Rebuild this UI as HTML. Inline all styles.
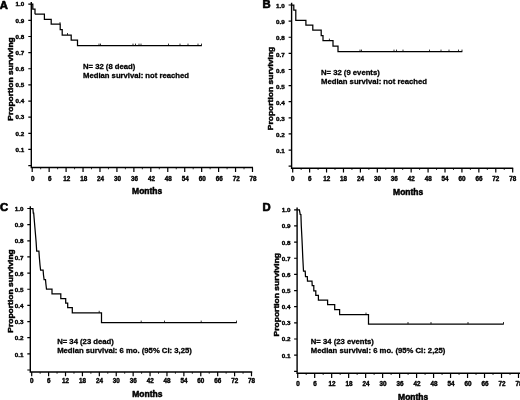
<!DOCTYPE html>
<html lang="en"><head><meta charset="utf-8"><title>Kaplan-Meier survival curves</title>
<style>html,body{margin:0;padding:0;background:#fff;}body{width:520px;height:400px;overflow:hidden;}svg{display:block;}text{font-family:'Liberation Sans', Arial, sans-serif;font-weight:bold;fill:#000;stroke:#000;stroke-width:0.3px;stroke-linejoin:round;}.t{font-size:6.3px;stroke-width:0.4px;} .l{font-size:8.5px;stroke-width:0.5px;} .n{font-size:7.7px;} .p{font-size:11.3px;stroke-width:0.7px;}.ax{stroke:#000;stroke-width:1.4;fill:none;} .tk{stroke:#000;stroke-width:1.2;fill:none;} .mt{stroke:#000;stroke-width:0.8;fill:none;}.cv{stroke:#000;stroke-width:1.25;fill:none;stroke-linejoin:miter;} .cs{stroke:#000;stroke-width:0.8;fill:none;}</style></head><body>
<svg width="520" height="400" viewBox="0 0 520 400">
<rect width="520" height="400" fill="#fff"/>
<g id="panelA">
<path class="ax" d="M31.30 2.00V167.50H253.00"/>
<text class="t" transform="translate(24.20 151.71) scale(1 0.9)" text-anchor="end">0.1</text>
<text class="t" transform="translate(24.20 135.57) scale(1 0.9)" text-anchor="end">0.2</text>
<text class="t" transform="translate(24.20 119.43) scale(1 0.9)" text-anchor="end">0.3</text>
<text class="t" transform="translate(24.20 103.29) scale(1 0.9)" text-anchor="end">0.4</text>
<text class="t" transform="translate(24.20 87.15) scale(1 0.9)" text-anchor="end">0.5</text>
<text class="t" transform="translate(24.20 71.01) scale(1 0.9)" text-anchor="end">0.6</text>
<text class="t" transform="translate(24.20 54.87) scale(1 0.9)" text-anchor="end">0.7</text>
<text class="t" transform="translate(24.20 38.73) scale(1 0.9)" text-anchor="end">0.8</text>
<text class="t" transform="translate(24.20 22.59) scale(1 0.9)" text-anchor="end">0.9</text>
<text class="t" transform="translate(24.20 6.45) scale(1 0.9)" text-anchor="end">1.0</text>
<path class="tk" d="M28.30 165.60H31.30M28.30 149.46H31.30M28.30 133.32H31.30M28.30 117.18H31.30M28.30 101.04H31.30M28.30 84.90H31.30M28.30 68.76H31.30M28.30 52.62H31.30M28.30 36.48H31.30M28.30 20.34H31.30M28.30 4.20H31.30"/>
<text class="t" x="32.80" y="180.80" text-anchor="middle">0</text>
<text class="t" x="49.75" y="180.80" text-anchor="middle">6</text>
<text class="t" x="66.69" y="180.80" text-anchor="middle">12</text>
<text class="t" x="83.64" y="180.80" text-anchor="middle">18</text>
<text class="t" x="100.58" y="180.80" text-anchor="middle">24</text>
<text class="t" x="117.53" y="180.80" text-anchor="middle">30</text>
<text class="t" x="134.48" y="180.80" text-anchor="middle">36</text>
<text class="t" x="151.42" y="180.80" text-anchor="middle">42</text>
<text class="t" x="168.37" y="180.80" text-anchor="middle">48</text>
<text class="t" x="185.32" y="180.80" text-anchor="middle">54</text>
<text class="t" x="202.26" y="180.80" text-anchor="middle">60</text>
<text class="t" x="219.21" y="180.80" text-anchor="middle">66</text>
<text class="t" x="236.15" y="180.80" text-anchor="middle">72</text>
<text class="t" x="253.10" y="180.80" text-anchor="middle">78</text>
<path class="tk" d="M32.20 167.50V172.10M49.15 167.50V172.10M66.09 167.50V172.10M83.04 167.50V172.10M99.98 167.50V172.10M116.93 167.50V172.10M133.88 167.50V172.10M150.82 167.50V172.10M167.77 167.50V172.10M184.72 167.50V172.10M201.66 167.50V172.10M218.61 167.50V172.10M235.55 167.50V172.10M252.50 167.50V172.10"/>
<path class="mt" d="M40.67 167.50V169.30M57.62 167.50V169.30M74.57 167.50V169.30M91.51 167.50V169.30M108.46 167.50V169.30M125.40 167.50V169.30M142.35 167.50V169.30M159.30 167.50V169.30M176.24 167.50V169.30M193.19 167.50V169.30M210.13 167.50V169.30M227.08 167.50V169.30M244.03 167.50V169.30"/>
<text class="p" transform="translate(-0.20 8.60) scale(1 0.9)">A</text>
<text class="l" text-anchor="middle" transform="translate(13.40 79.00) rotate(-90) scale(1 0.9)">Proportion surviving</text>
<text class="l" text-anchor="middle" x="147.20" y="194.40">Months</text>
<text class="n" x="83.00" y="69.20">N= 32 (8 dead)</text>
<text class="n" x="83.00" y="78.20">Median survival: not reached</text>
<polyline class="cv" points="31.50,4.20 32.80,4.20 32.80,9.20 35.00,9.20 35.00,14.20 35.00,14.10 44.40,14.10 44.40,19.40 51.20,19.40 51.20,24.10 60.20,24.10 60.20,29.60 62.20,29.60 62.20,35.00 71.20,35.00 71.20,40.20 77.50,40.20 77.50,45.60 201.80,45.60"/>
<path class="cs" d="M60.00 22.10V24.10M67.50 33.00V35.00M99.00 43.60V45.60M100.50 43.60V45.60M133.00 43.60V45.60M135.50 43.60V45.60M139.00 43.60V45.60M141.00 43.60V45.60M168.50 43.60V45.60M180.00 43.60V45.60M188.00 43.60V45.60M198.00 43.60V45.60M201.50 43.60V45.60"/>
</g>
<g id="panelB">
<path class="ax" d="M291.60 2.80V168.20H513.20"/>
<text class="t" transform="translate(284.70 153.33) scale(1 0.9)" text-anchor="end">0.1</text>
<text class="t" transform="translate(284.70 137.21) scale(1 0.9)" text-anchor="end">0.2</text>
<text class="t" transform="translate(284.70 121.09) scale(1 0.9)" text-anchor="end">0.3</text>
<text class="t" transform="translate(284.70 104.97) scale(1 0.9)" text-anchor="end">0.4</text>
<text class="t" transform="translate(284.70 88.85) scale(1 0.9)" text-anchor="end">0.5</text>
<text class="t" transform="translate(284.70 72.73) scale(1 0.9)" text-anchor="end">0.6</text>
<text class="t" transform="translate(284.70 56.61) scale(1 0.9)" text-anchor="end">0.7</text>
<text class="t" transform="translate(284.70 40.49) scale(1 0.9)" text-anchor="end">0.8</text>
<text class="t" transform="translate(284.70 24.37) scale(1 0.9)" text-anchor="end">0.9</text>
<text class="t" transform="translate(284.70 8.25) scale(1 0.9)" text-anchor="end">1.0</text>
<path class="tk" d="M288.60 166.20H291.60M288.60 150.08H291.60M288.60 133.96H291.60M288.60 117.84H291.60M288.60 101.72H291.60M288.60 85.60H291.60M288.60 69.48H291.60M288.60 53.36H291.60M288.60 37.24H291.60M288.60 21.12H291.60M288.60 5.00H291.60"/>
<text class="t" x="292.80" y="181.20" text-anchor="middle">0</text>
<text class="t" x="309.72" y="181.20" text-anchor="middle">6</text>
<text class="t" x="326.65" y="181.20" text-anchor="middle">12</text>
<text class="t" x="343.57" y="181.20" text-anchor="middle">18</text>
<text class="t" x="360.49" y="181.20" text-anchor="middle">24</text>
<text class="t" x="377.42" y="181.20" text-anchor="middle">30</text>
<text class="t" x="394.34" y="181.20" text-anchor="middle">36</text>
<text class="t" x="411.26" y="181.20" text-anchor="middle">42</text>
<text class="t" x="428.18" y="181.20" text-anchor="middle">48</text>
<text class="t" x="445.11" y="181.20" text-anchor="middle">54</text>
<text class="t" x="462.03" y="181.20" text-anchor="middle">60</text>
<text class="t" x="478.95" y="181.20" text-anchor="middle">66</text>
<text class="t" x="495.88" y="181.20" text-anchor="middle">72</text>
<text class="t" x="512.80" y="181.20" text-anchor="middle">78</text>
<path class="tk" d="M292.70 168.20V172.60M309.62 168.20V172.60M326.55 168.20V172.60M343.47 168.20V172.60M360.39 168.20V172.60M377.32 168.20V172.60M394.24 168.20V172.60M411.16 168.20V172.60M428.08 168.20V172.60M445.01 168.20V172.60M461.93 168.20V172.60M478.85 168.20V172.60M495.78 168.20V172.60M512.70 168.20V172.60"/>
<path class="mt" d="M301.16 168.20V170.00M318.08 168.20V170.00M335.01 168.20V170.00M351.93 168.20V170.00M368.85 168.20V170.00M385.78 168.20V170.00M402.70 168.20V170.00M419.62 168.20V170.00M436.55 168.20V170.00M453.47 168.20V170.00M470.39 168.20V170.00M487.32 168.20V170.00M504.24 168.20V170.00"/>
<text class="p" transform="translate(262.40 7.80) scale(1 0.9)">B</text>
<text class="l" text-anchor="middle" transform="translate(273.40 88.50) rotate(-90) scale(1 0.9)">Proportion surviving</text>
<text class="l" text-anchor="middle" x="408.20" y="194.90">Months</text>
<text class="n" x="321.00" y="75.20">N= 32 (9 events)</text>
<text class="n" x="321.00" y="84.20">Median survival: not reached</text>
<polyline class="cv" points="292.00,5.00 293.80,5.00 293.80,10.10 295.80,10.10 295.80,20.30 305.90,20.30 305.90,25.20 312.80,25.20 312.80,30.20 321.20,30.20 321.20,35.60 323.00,35.60 323.00,40.60 333.00,40.60 333.00,46.20 338.00,46.20 338.00,51.60 462.30,51.60"/>
<path class="cs" d="M329.40 38.60V40.60M360.00 49.60V51.60M361.50 49.60V51.60M394.00 49.60V51.60M396.50 49.60V51.60M403.00 49.60V51.60M429.50 49.60V51.60M441.00 49.60V51.60M449.00 49.60V51.60M458.50 49.60V51.60M462.00 49.60V51.60"/>
</g>
<g id="panelC">
<path class="ax" d="M30.30 206.30V372.00H252.20"/>
<text class="t" transform="translate(23.50 356.50) scale(1 0.9)" text-anchor="end">0.1</text>
<text class="t" transform="translate(23.50 340.35) scale(1 0.9)" text-anchor="end">0.2</text>
<text class="t" transform="translate(23.50 324.20) scale(1 0.9)" text-anchor="end">0.3</text>
<text class="t" transform="translate(23.50 308.05) scale(1 0.9)" text-anchor="end">0.4</text>
<text class="t" transform="translate(23.50 291.90) scale(1 0.9)" text-anchor="end">0.5</text>
<text class="t" transform="translate(23.50 275.75) scale(1 0.9)" text-anchor="end">0.6</text>
<text class="t" transform="translate(23.50 259.60) scale(1 0.9)" text-anchor="end">0.7</text>
<text class="t" transform="translate(23.50 243.45) scale(1 0.9)" text-anchor="end">0.8</text>
<text class="t" transform="translate(23.50 227.30) scale(1 0.9)" text-anchor="end">0.9</text>
<text class="t" transform="translate(23.50 211.15) scale(1 0.9)" text-anchor="end">1.0</text>
<path class="tk" d="M27.30 370.00H30.30M27.30 353.85H30.30M27.30 337.70H30.30M27.30 321.55H30.30M27.30 305.40H30.30M27.30 289.25H30.30M27.30 273.10H30.30M27.30 256.95H30.30M27.30 240.80H30.30M27.30 224.65H30.30M27.30 208.50H30.30"/>
<text class="t" x="31.80" y="382.90" text-anchor="middle">0</text>
<text class="t" x="48.71" y="382.90" text-anchor="middle">6</text>
<text class="t" x="65.62" y="382.90" text-anchor="middle">12</text>
<text class="t" x="82.52" y="382.90" text-anchor="middle">18</text>
<text class="t" x="99.43" y="382.90" text-anchor="middle">24</text>
<text class="t" x="116.34" y="382.90" text-anchor="middle">30</text>
<text class="t" x="133.25" y="382.90" text-anchor="middle">36</text>
<text class="t" x="150.15" y="382.90" text-anchor="middle">42</text>
<text class="t" x="167.06" y="382.90" text-anchor="middle">48</text>
<text class="t" x="183.97" y="382.90" text-anchor="middle">54</text>
<text class="t" x="200.88" y="382.90" text-anchor="middle">60</text>
<text class="t" x="217.78" y="382.90" text-anchor="middle">66</text>
<text class="t" x="234.69" y="382.90" text-anchor="middle">72</text>
<text class="t" x="251.60" y="382.90" text-anchor="middle">78</text>
<path class="tk" d="M31.70 372.00V376.30M48.61 372.00V376.30M65.52 372.00V376.30M82.42 372.00V376.30M99.33 372.00V376.30M116.24 372.00V376.30M133.15 372.00V376.30M150.05 372.00V376.30M166.96 372.00V376.30M183.87 372.00V376.30M200.78 372.00V376.30M217.68 372.00V376.30M234.59 372.00V376.30M251.50 372.00V376.30"/>
<path class="mt" d="M40.15 372.00V373.80M57.06 372.00V373.80M73.97 372.00V373.80M90.88 372.00V373.80M107.78 372.00V373.80M124.69 372.00V373.80M141.60 372.00V373.80M158.51 372.00V373.80M175.42 372.00V373.80M192.32 372.00V373.80M209.23 372.00V373.80M226.14 372.00V373.80M243.05 372.00V373.80"/>
<text class="p" transform="translate(0.10 210.60) scale(1 0.9)">C</text>
<text class="l" text-anchor="middle" transform="translate(13.00 291.00) rotate(-90) scale(1 0.9)">Proportion surviving</text>
<text class="l" text-anchor="middle" x="147.30" y="397.30">Months</text>
<text class="n" x="57.20" y="343.60">N= 34 (23 dead)</text>
<text class="n" x="57.20" y="352.60">Median survival: 6 mo. (95% CI: 3,25)</text>
<polyline class="cv" points="30.50,208.50 32.90,208.50 33.30,213.20 33.70,213.20 34.10,218.00 34.50,222.70 34.90,227.50 35.30,232.20 35.70,237.00 36.10,241.70 36.40,246.50 36.70,251.20 38.90,251.20 39.40,258.00 40.00,265.00 40.60,270.00 43.10,270.00 43.50,275.00 44.10,279.50 45.50,279.50 45.90,284.00 46.50,289.20 52.00,289.20 52.00,293.80 60.80,293.80 60.80,298.50 65.70,298.50 65.70,303.00 67.70,303.00 67.70,307.70 72.30,307.70 72.30,312.80 101.50,312.80 101.50,322.60 236.80,322.60"/>
<path class="cs" d="M99.20 310.80V312.80M141.20 320.60V322.60M164.50 320.60V322.60M201.20 320.60V322.60M236.50 320.60V322.60"/>
</g>
<g id="panelD">
<path class="ax" d="M297.10 207.60V373.20H520.00"/>
<text class="t" transform="translate(290.60 357.60) scale(1 0.9)" text-anchor="end">0.1</text>
<text class="t" transform="translate(290.60 341.45) scale(1 0.9)" text-anchor="end">0.2</text>
<text class="t" transform="translate(290.60 325.30) scale(1 0.9)" text-anchor="end">0.3</text>
<text class="t" transform="translate(290.60 309.15) scale(1 0.9)" text-anchor="end">0.4</text>
<text class="t" transform="translate(290.60 293.00) scale(1 0.9)" text-anchor="end">0.5</text>
<text class="t" transform="translate(290.60 276.85) scale(1 0.9)" text-anchor="end">0.6</text>
<text class="t" transform="translate(290.60 260.70) scale(1 0.9)" text-anchor="end">0.7</text>
<text class="t" transform="translate(290.60 244.55) scale(1 0.9)" text-anchor="end">0.8</text>
<text class="t" transform="translate(290.60 228.40) scale(1 0.9)" text-anchor="end">0.9</text>
<text class="t" transform="translate(290.60 212.25) scale(1 0.9)" text-anchor="end">1.0</text>
<path class="tk" d="M294.10 371.30H297.10M294.10 355.15H297.10M294.10 339.00H297.10M294.10 322.85H297.10M294.10 306.70H297.10M294.10 290.55H297.10M294.10 274.40H297.10M294.10 258.25H297.10M294.10 242.10H297.10M294.10 225.95H297.10M294.10 209.80H297.10"/>
<text class="t" x="298.10" y="386.10" text-anchor="middle">0</text>
<text class="t" x="315.08" y="386.10" text-anchor="middle">6</text>
<text class="t" x="332.07" y="386.10" text-anchor="middle">12</text>
<text class="t" x="349.05" y="386.10" text-anchor="middle">18</text>
<text class="t" x="366.04" y="386.10" text-anchor="middle">24</text>
<text class="t" x="383.02" y="386.10" text-anchor="middle">30</text>
<text class="t" x="400.01" y="386.10" text-anchor="middle">36</text>
<text class="t" x="416.99" y="386.10" text-anchor="middle">42</text>
<text class="t" x="433.98" y="386.10" text-anchor="middle">48</text>
<text class="t" x="450.96" y="386.10" text-anchor="middle">54</text>
<text class="t" x="467.95" y="386.10" text-anchor="middle">60</text>
<text class="t" x="484.93" y="386.10" text-anchor="middle">66</text>
<text class="t" x="501.92" y="386.10" text-anchor="middle">72</text>
<text class="t" x="518.90" y="386.10" text-anchor="middle">78</text>
<path class="tk" d="M297.70 373.20V378.00M314.68 373.20V378.00M331.67 373.20V378.00M348.65 373.20V378.00M365.64 373.20V378.00M382.62 373.20V378.00M399.61 373.20V378.00M416.59 373.20V378.00M433.58 373.20V378.00M450.56 373.20V378.00M467.55 373.20V378.00M484.53 373.20V378.00M501.52 373.20V378.00M518.50 373.20V378.00"/>
<path class="mt" d="M306.19 373.20V375.00M323.18 373.20V375.00M340.16 373.20V375.00M357.15 373.20V375.00M374.13 373.20V375.00M391.12 373.20V375.00M408.10 373.20V375.00M425.08 373.20V375.00M442.07 373.20V375.00M459.05 373.20V375.00M476.04 373.20V375.00M493.02 373.20V375.00M510.01 373.20V375.00"/>
<text class="p" transform="translate(262.60 210.50) scale(1 0.9)">D</text>
<text class="l" text-anchor="middle" transform="translate(278.80 294.70) rotate(-90) scale(1 0.9)">Proportion surviving</text>
<text class="l" text-anchor="middle" x="413.20" y="399.50">Months</text>
<text class="n" x="310.80" y="343.80">N= 34 (23 events)</text>
<text class="n" x="310.80" y="352.80">Median survival: 6 mo. (95% CI: 2,25)</text>
<polyline class="cv" points="297.20,209.80 299.40,209.80 300.20,214.40 300.90,214.60 301.30,226.00 301.90,237.50 302.30,246.00 302.80,258.00 303.50,271.20 305.20,271.20 305.50,276.50 307.30,276.50 307.50,281.00 312.00,281.00 312.20,285.70 313.80,285.70 313.80,290.80 315.80,290.80 315.80,295.40 318.40,295.40 318.40,300.00 327.60,300.00 327.60,304.60 334.70,304.60 334.70,309.70 339.60,309.70 339.60,314.60 368.50,314.60 368.50,324.00 503.80,324.00"/>
<path class="cs" d="M366.00 312.60V314.60M408.00 322.00V324.00M431.00 322.00V324.00M468.00 322.00V324.00M503.50 322.00V324.00"/>
</g>
</svg></body></html>
